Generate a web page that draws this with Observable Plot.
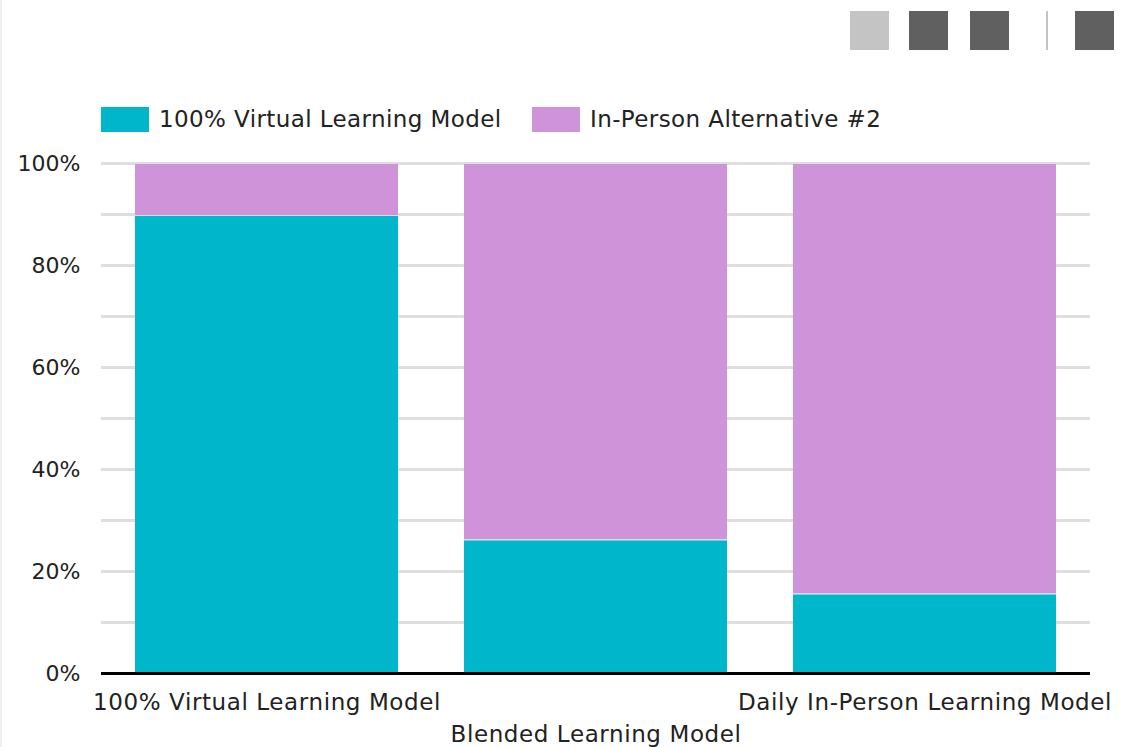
<!DOCTYPE html>
<html><head><meta charset="utf-8">
<script src="https://cdn.jsdelivr.net/npm/d3@7"></script>
<script src="https://cdn.jsdelivr.net/npm/@observablehq/plot@0.6"></script>
<style>
body{margin:0;background:#fff;font-family:"DejaVu Sans",sans-serif;color:#222;}
#wrap{position:relative;width:1134px;height:747px;overflow:hidden;background:#fff;}
#wrap:before{content:"";position:absolute;left:0;top:0;width:2px;height:747px;background:#f0f0f0;}
.tb{position:absolute;top:11px;width:39px;height:39px;}
.sep{position:absolute;top:11px;left:1046px;width:2px;height:39px;background:#c4c4c4;}
#legend{position:absolute;top:106px;left:0;width:1134px;height:26px;font-size:23px;letter-spacing:0.4px;}
.item{position:absolute;top:0;display:flex;align-items:center;height:26px;white-space:nowrap;}
.sw{width:48px;height:25px;margin-right:10px;}
#chart{position:absolute;left:0;top:0;}
#chart svg g[aria-label="x-axis tick label"] text{letter-spacing:0.6px;}
</style></head><body>
<div id="wrap">
  <div class="tb" style="left:850px;background:#c4c4c4"></div>
  <div class="tb" style="left:909px;background:#606060"></div>
  <div class="tb" style="left:970px;background:#606060"></div>
  <div class="sep"></div>
  <div class="tb" style="left:1075px;background:#606060"></div>
  <div id="chart"></div>
  <div id="legend"></div>
</div>
<script>
const categories = ["100% Virtual Learning Model", "Blended Learning Model", "Daily In-Person Learning Model"];
const virtualShare = [89.8, 26.2, 15.6];
const inPersonShare = [10.2, 73.8, 84.4];
const seriesNames = ["100% Virtual Learning Model", "In-Person Alternative #2"];
const seriesColors = ["#00b6cb", "#cf93da"];
const yTicks = [0, 20, 40, 60, 80, 100];
const gridTicks = [0, 10, 20, 30, 40, 50, 60, 70, 80, 90, 100];

const rows = [];
categories.forEach((c, i) => {
  rows.push({category: c, series: seriesNames[0], value: virtualShare[i]});
  rows.push({category: c, series: seriesNames[1], value: inPersonShare[i]});
});

const chart = Plot.plot({
  width: 1134, height: 747,
  marginLeft: 101, marginRight: 44, marginTop: 163, marginBottom: 74,
  style: {fontFamily: "'DejaVu Sans', sans-serif", fontSize: "23px", color: "#222", background: "transparent"},
  x: {domain: categories, paddingInner: 0.2, paddingOuter: 0.1, label: null, axis: null},
  y: {domain: [0, 100], label: null, axis: null},
  color: {domain: seriesNames, range: seriesColors},
  marks: [
    Plot.ruleY(gridTicks, {stroke: "#dedede", strokeWidth: 3}),
    Plot.barY(rows, {x: "category", y: "value", fill: "series", order: seriesNames, insetTop: 1}),
    Plot.ruleY([0], {stroke: "#000", strokeWidth: 3}),
    Plot.axisY(yTicks, {tickSize: 0, tickPadding: 21, tickFormat: d => d + "%", fontSize: 22, label: null}),
    Plot.axisX([categories[0], categories[2]], {tickSize: 0, tickPadding: 20, fontSize: 23, label: null}),
    Plot.axisX([categories[1]], {tickSize: 0, tickPadding: 52, fontSize: 23, label: null})
  ]
});
document.getElementById("chart").appendChild(chart);

const legendLeft = [101, 532];
const legend = document.getElementById("legend");
seriesNames.forEach((name, i) => {
  const item = document.createElement("div");
  item.className = "item";
  item.style.left = legendLeft[i] + "px";
  const sw = document.createElement("div");
  sw.className = "sw";
  sw.style.background = seriesColors[i];
  const t = document.createElement("span");
  t.textContent = name;
  item.appendChild(sw);
  item.appendChild(t);
  legend.appendChild(item);
});
</script>
</body></html>
